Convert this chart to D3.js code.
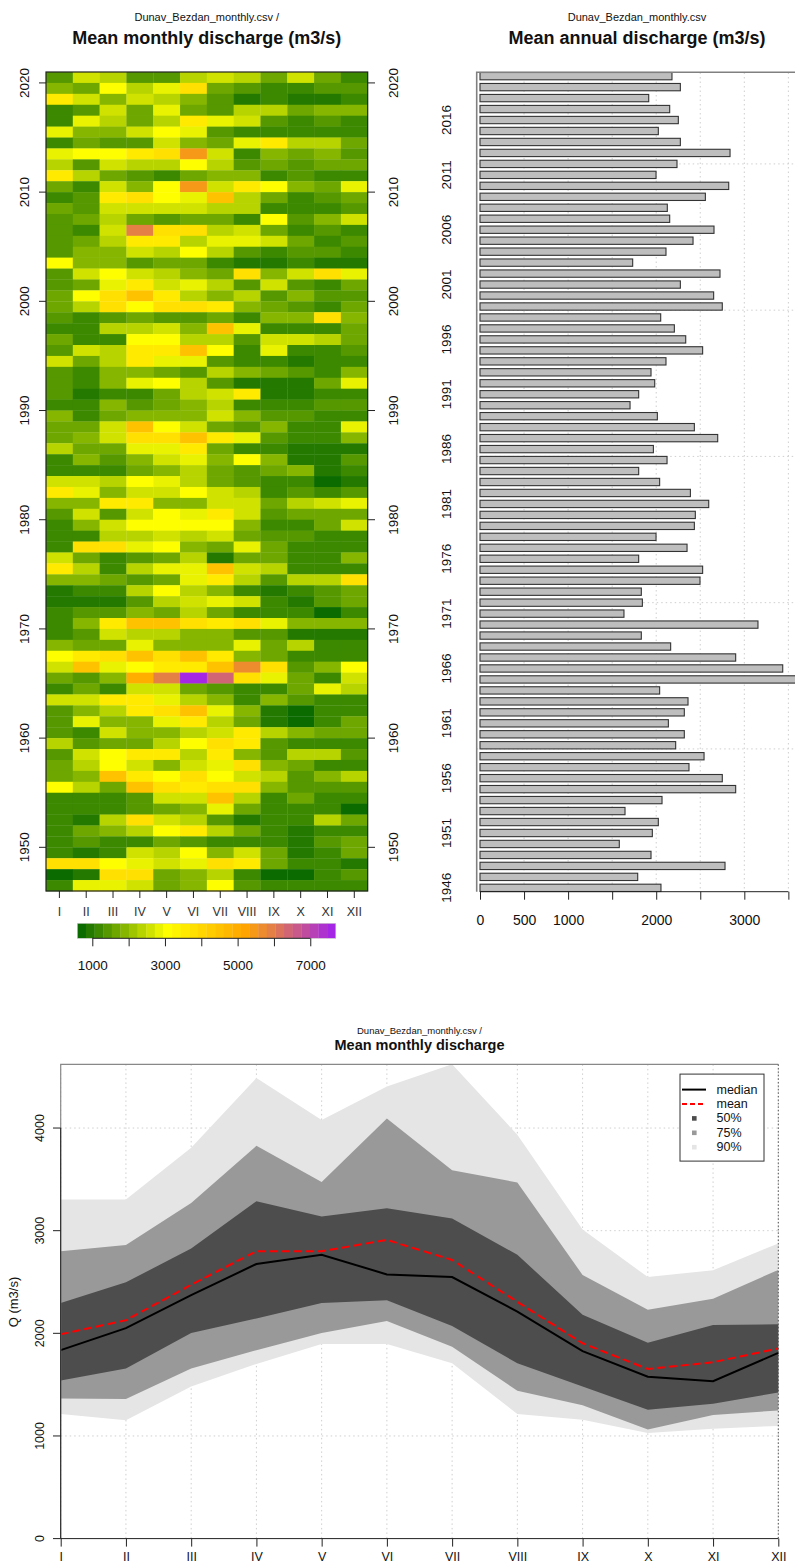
<!DOCTYPE html>
<html>
<head>
<meta charset="utf-8">
<script src="https://cdn.jsdelivr.net/npm/d3@7"></script>
<style>
  body { margin: 0; background: #fff; }
  text { font-family: "Liberation Sans", Arial, sans-serif; fill: #111; }
  .narrow { font-family: "Liberation Sans Narrow", "Liberation Sans", Arial, sans-serif; }
</style>
</head>
<body>
<div id="chart"></div>
<script>
const months = ["I", "II", "III", "IV", "V", "VI", "VII", "VIII", "IX", "X", "XI", "XII"];
const years = d3.range(1946, 2021);

// monthly mean discharge, rows from 2020 (top) down to 1946
const monthly = [
  [1450,2600,2300,1450,1450,2300,2600,2300,1700,2600,1700,1250], // 2020
  [2000,1700,3100,2300,2850,3900,1700,1450,1250,1250,1450,1450],
  [3500,2600,2000,2600,2300,2000,1450,850,1100,850,850,1250],
  [1100,1450,2600,1700,2850,1700,1450,2300,2300,1700,2000,2000],
  [1100,2850,2300,1700,2300,3500,2850,2600,1450,1250,1450,1250], // 2016
  [2850,2000,2000,2600,3100,2850,1450,1100,1100,1100,1100,1100],
  [1250,1700,1450,1450,2600,2000,1700,2850,3500,2300,2300,1700],
  [2850,3100,3100,3500,3900,5500,2600,1250,2000,1700,2000,1450],
  [2300,1450,2600,2300,2300,3100,2300,1450,1700,1450,1700,1700],
  [3500,2300,1700,1450,1250,1700,2000,2000,1250,1450,1100,1100], // 2011
  [1700,1250,2600,2000,3100,5500,2600,3500,3100,2000,1700,2850],
  [1250,1450,3500,3900,3100,2850,4600,2300,1700,1250,1450,1700],
  [1700,1450,2600,2600,2600,2600,2300,2300,1250,1100,1100,1450],
  [1450,1700,2300,1700,1450,1700,1700,1250,3100,1450,2000,2600],
  [1450,1250,2600,6000,3900,3900,2300,2600,1700,1100,1450,1100], // 2006
  [1450,1700,2300,3500,3500,2300,2850,2850,2600,1700,1100,1450],
  [1450,2000,2000,2600,2300,3100,2300,1450,1250,1450,1450,1250],
  [3100,2000,2000,1450,1700,1700,1100,850,850,1250,850,850],
  [1450,2600,3100,2600,2300,2000,1700,3900,2000,2600,3900,2850],
  [1450,1700,2850,3500,2600,2850,2300,1450,2600,1450,1100,1700], // 2001
  [1700,3100,3900,4600,3500,2300,2000,2300,1450,2000,1450,1450],
  [1700,2300,3900,3100,3900,3900,3500,2000,1700,1450,1250,1700],
  [1450,1100,1450,1700,1450,1450,1700,1250,2000,2000,3900,2000],
  [1250,1250,2300,2300,2600,2000,4600,2850,1100,1100,1100,1700],
  [1700,1100,1250,3100,3100,2300,2300,1450,2600,2600,2300,1700], // 1996
  [1450,2600,2300,3500,3500,4600,3100,1250,2850,1250,1250,1450],
  [2600,1700,2300,3500,2850,2850,1450,1100,1250,850,1250,1250],
  [1450,1250,2000,2000,1700,1450,2300,2000,1700,1450,1250,2000],
  [1450,1250,2000,2850,3100,2300,1450,850,850,850,1700,2850],
  [1450,850,1100,1100,1700,2300,2600,3500,850,850,1100,1250], // 1991
  [1100,1100,2000,1450,1700,2000,2300,1100,1100,1100,1450,1450],
  [2000,1100,1700,2000,2000,2000,2600,2000,1450,1450,1250,1100],
  [1700,1700,2600,4600,3100,2600,1700,1450,2000,1100,1100,2850],
  [1700,2000,2600,3900,3900,4600,3500,2850,1450,1100,1100,2000],
  [2300,1700,1700,2850,2850,3500,1700,1250,1250,850,850,850], // 1986
  [1250,2000,1450,2000,2600,2850,2000,3100,2000,850,850,1450],
  [1250,1250,1100,1700,2000,2300,1700,1450,1700,2000,850,1100],
  [2600,2600,2300,3100,2850,2300,1700,1450,1100,1100,700,850],
  [3500,2850,2000,2600,2600,3100,2600,2300,1250,1450,1100,1450],
  [2000,2000,3500,3500,2000,2000,2600,2600,1700,2300,2600,2850], // 1981
  [1450,2600,1450,2600,3100,2850,3500,2600,1450,1700,1700,1700],
  [1250,2000,2600,3100,3100,3100,3100,2000,1250,1250,1700,2600],
  [1250,1100,2300,2300,2600,2300,2600,1700,1450,1450,1250,1100],
  [1100,3900,3900,2850,3100,2000,1700,2850,1700,1100,1250,1250],
  [2600,1700,1250,1450,1700,2300,850,1700,1700,1100,1100,2000], // 1976
  [3500,2300,1250,2300,2850,2850,4600,2600,2300,1250,1100,1100],
  [2000,2000,1700,1450,1700,2850,3500,2300,1450,2300,2300,3900],
  [850,1100,1250,2300,3100,2300,2000,1250,850,1250,1450,1700],
  [850,850,850,1450,2300,2600,2850,2600,1250,850,1450,1700],
  [1250,1450,1450,2000,1700,2300,1700,1100,1100,1100,700,1100], // 1971
  [1100,2000,3500,4600,4600,3900,3500,3900,2850,2000,2000,2000],
  [1250,1450,2600,2300,2300,2000,2000,1450,1450,850,850,850],
  [2000,1700,1700,2850,2000,2000,2000,2850,1700,2300,1250,1100],
  [3100,3500,3900,4600,3900,4600,3500,2000,1700,1250,1100,1100],
  [2600,4600,2850,3100,3500,3500,4600,5700,3900,1450,2000,3100], // 1966
  [1700,1450,2000,5000,6000,7600,6400,3900,2850,1700,1250,2600],
  [1100,1700,1100,2600,2600,1700,1450,1100,1100,1700,2850,2300],
  [2600,2600,3500,3500,2850,2300,2000,1100,2000,1450,1250,1100],
  [1450,2000,2300,3500,3900,4600,2850,2000,850,700,1100,1100],
  [1450,2850,2000,2000,2850,3500,2300,1700,850,700,1100,1700], // 1961
  [1450,1250,2600,2000,2000,2300,2600,3500,2300,2000,1700,1700],
  [2300,1450,1700,1700,2300,3100,3900,3500,1450,1100,1100,1100],
  [1450,2600,3100,3500,3500,2300,3500,2000,1450,2300,2300,1450],
  [1700,2300,3100,2600,2000,2600,2850,3900,2000,1700,1100,1250],
  [1700,2000,4600,3500,3100,3900,3100,2600,2300,1450,2000,2300], // 1956
  [3100,2300,1700,4600,3900,3500,3900,3900,2000,1450,1450,1450],
  [1100,1100,1250,1450,2600,2600,4600,2300,1250,1700,1250,1250],
  [1250,1250,1250,1450,1700,2000,2850,1700,1100,1100,1100,700],
  [1100,850,2300,3900,2600,2300,1450,850,1100,1100,2300,1700],
  [1250,1700,2000,2300,3100,3500,2300,1700,1100,850,1100,1250], // 1951
  [1250,1450,1250,1250,1700,1300,1100,1100,1100,1000,1450,1700],
  [1100,850,1100,2600,2300,3100,2000,2600,1700,850,1100,1700],
  [3900,3900,3100,2850,2600,2850,3900,3500,1700,1100,1100,850],
  [700,850,3900,3900,1700,2000,2300,1100,700,700,1100,1450],
  [1100,2850,2850,2600,1700,2000,3100,1450,1100,1100,1100,1100]  // 1946
];

// mean annual discharge, 1946 .. 2020
const annual = [
  2054, 1790, 2781, 1941, 1581, 1956, 2024, 1646, 2066, 2902,
  2750, 2372, 2543, 2221, 2319, 2138, 2319, 2361, 2039, 3700,
  3436, 2902, 2164, 1831, 3155, 1634, 1843, 1831, 2497, 2527,
  1801, 2350, 1998, 2433, 2444, 2596, 2388, 2039, 1801, 2123,
  1968, 2698, 2433, 2013, 1703, 1801, 1983, 1941, 2111, 2527,
  2335, 2206, 2051, 2750, 2652, 2274, 2724, 1733, 2111, 2418,
  2656, 2153, 2126, 2558, 2823, 1998, 2236, 2838, 2274, 2024,
  2251, 2153, 1915, 2274, 2179
];

// monthly regime: quantile bands, median and mean
const p90hi = [3303, 3303, 3807, 4488, 4078, 4404, 4622, 3934, 3011, 2548, 2614, 2876];
const p75hi = [2800, 2860, 3269, 3827, 3474, 4092, 3588, 3470, 2568, 2229, 2336, 2618];
const p50hi = [2296, 2497, 2826, 3286, 3138, 3219, 3118, 2765, 2181, 1909, 2081, 2088];
const meanQ = [1990, 2128, 2473, 2800, 2800, 2910, 2715, 2306, 1903, 1652, 1718, 1853];
const medianQ = [1836, 2051, 2373, 2675, 2766, 2574, 2548, 2212, 1826, 1577, 1534, 1809];
const p50lo = [1541, 1658, 2004, 2145, 2296, 2322, 2071, 1708, 1483, 1255, 1315, 1423];
const p75lo = [1366, 1360, 1658, 1836, 2004, 2121, 1869, 1440, 1299, 1063, 1204, 1249];
const p90lo = [1215, 1154, 1483, 1702, 1896, 1896, 1708, 1215, 1158, 1030, 1070, 1098];

const W = 795, H = 1567;
const svg = d3.select('#chart').append('svg')
  .attr('width', W).attr('height', H);

// ---------- colour palette (binned like the R image) ----------
const zMin = 587, zMax = 7700, nBins = 30;
const ramp = d3.scaleLinear()
  .domain([600, 3050, 5200, 7700])
  .range(["#006400", "#ffff00", "#ffa500", "#a020f0"])
  .clamp(true);
const step = (zMax - zMin) / nBins;
const binColors = d3.range(nBins).map(k => ramp(zMin + (k + 0.5) * step));
const color = d3.scaleQuantize().domain([zMin, zMax]).range(binColors);

function vtext(g, x, y, str, size) {
  g.append('text')
    .attr('transform', `translate(${x},${y}) rotate(-90)`)
    .attr('text-anchor', 'middle')
    .attr('dominant-baseline', 'central')
    .style('font-size', size + 'px')
    .text(str);
}

function titles(g, cx, y1, y2, sub, main, s1, s2) {
  g.append('text').attr('class', 'narrow').attr('x', cx).attr('y', y1).attr('text-anchor', 'middle')
    .attr('dominant-baseline', 'central').style('font-size', s1 + 'px').text(sub);
  g.append('text').attr('x', cx).attr('y', y2).attr('text-anchor', 'middle')
    .attr('dominant-baseline', 'central').style('font-size', s2 + 'px').style('font-weight', 'bold')
    .text(main);
}

// ---------- heatmap ----------
const hm = svg.append('g');
const hx = d3.scaleBand().domain(months).range([46, 367.7]);
const hy = d3.scaleLinear().domain([1946, 2021]).range([891, 72]);

titles(hm, 206.8, 17, 38, 'Dunav_Bezdan_monthly.csv /', 'Mean monthly discharge (m3/s)', 11, 18);

monthly.forEach((row, r) => {
  const yr = 2020 - r;
  hm.append('g').selectAll('rect')
    .data(row)
    .enter().append('rect')
      .attr('x', (d, i) => hx(months[i]))
      .attr('y', hy(yr + 1))
      .attr('width', hx.bandwidth() + 0.3)
      .attr('height', hy(yr) - hy(yr + 1) + 0.3)
      .attr('fill', d => color(d));
});
hm.append('rect').attr('x', 46).attr('y', 72).attr('width', 321.7).attr('height', 819)
  .attr('fill', 'none').attr('stroke', '#222').attr('stroke-width', 1.2);

const yTicks = d3.range(1950, 2021, 10);
yTicks.forEach(t => {
  hm.append('line').attr('x1', 39).attr('x2', 46).attr('y1', hy(t)).attr('y2', hy(t)).attr('stroke', '#222');
  hm.append('line').attr('x1', 367.7).attr('x2', 375).attr('y1', hy(t)).attr('y2', hy(t)).attr('stroke', '#222');
  vtext(hm, 24, hy(t), t, 13.5);
  vtext(hm, 393, hy(t), t, 13.5);
});
months.forEach(m => {
  const cx = hx(m) + hx.bandwidth() / 2;
  hm.append('line').attr('x1', cx).attr('x2', cx).attr('y1', 891).attr('y2', 898).attr('stroke', '#222');
  hm.append('text').attr('x', cx).attr('y', 912).attr('text-anchor', 'middle')
    .attr('dominant-baseline', 'central').style('font-size', '12.5px').style('fill', '#333').text(m);
});

// colour legend
const cb = d3.scaleLinear().domain([zMin, zMax]).range([77.3, 335.7]);
hm.append('g').selectAll('rect')
  .data(binColors)
  .enter().append('rect')
    .attr('x', (d, k) => cb(zMin + k * step))
    .attr('y', 923.3)
    .attr('width', cb(zMin + step) - cb(zMin) + 0.3)
    .attr('height', 15)
    .attr('fill', d => d);
hm.append('rect').attr('x', 77.3).attr('y', 923.3).attr('width', 258.4).attr('height', 15)
  .attr('fill', 'none').attr('stroke', '#ccc').attr('stroke-width', 0.6);
const cbAxis = d3.axisBottom(cb).tickValues(d3.range(1000, 7001, 1000))
  .tickSize(8).tickFormat(d => (d % 2000 === 1000 ? d : ''));
const cbg = hm.append('g').attr('transform', 'translate(0,938.3)').call(cbAxis);
cbg.select('.domain').attr('stroke', '#222').attr('d', `M${cb(1000)},0H${cb(7000)}`);
cbg.selectAll('.tick line').attr('stroke', '#222');
cbg.selectAll('.tick text').attr('dy', null).attr('y', 27).attr('dominant-baseline', 'central')
  .style('font-size', '13.5px').style('font-family', '"Liberation Sans", Arial, sans-serif').attr('fill', '#111');

// ---------- annual bars ----------
const bc = svg.append('g');
const bx = d3.scaleLinear().domain([0, 3598]).range([480, 797]);
const by = d3.scaleLinear().domain([0.5, 112.5]).range([891.5, 72.5]);

titles(bc, 637, 17, 38, 'Dunav_Bezdan_monthly.csv', 'Mean annual discharge (m3/s)', 11, 18);

const gridStyle = sel => sel.attr('stroke', '#cfcfcf').attr('stroke-dasharray', '1.5,3').attr('stroke-width', 1);
d3.range(500, 3501, 500).forEach(v => {
  bc.append('line').attr('x1', bx(v)).attr('x2', bx(v)).attr('y1', 72.5).attr('y2', 891.5).call(gridStyle);
});
[20, 40, 60, 80, 100].forEach(u => {
  bc.append('line').attr('x1', 476.7).attr('x2', 797).attr('y1', by(u)).attr('y2', by(u)).call(gridStyle);
});

bc.append('g').selectAll('rect')
  .data(annual)
  .enter().append('rect')
    .attr('x', bx(0))
    .attr('y', (d, i) => by(1.5 + 1.5 * i))
    .attr('width', d => bx(d) - bx(0))
    .attr('height', (d, i) => by(0.5 + 1.5 * i) - by(1.5 + 1.5 * i))
    .attr('fill', '#bebebe')
    .attr('stroke', '#333')
    .attr('stroke-width', 1.1);

bc.append('path').attr('d', `M797,72.3H476.7V891.7`).attr('fill', 'none')
  .attr('stroke', '#808080').attr('stroke-width', 1.6);

const bAxis = d3.axisBottom(bx).tickValues(d3.range(0, 3501, 500)).tickSize(8)
  .tickFormat(d => ([0, 500, 1000, 2000, 3000].includes(d) ? d : ''));
const bag = bc.append('g').attr('transform', 'translate(0,891.7)').call(bAxis);
bag.select('.domain').attr('stroke', '#222').attr('d', `M${bx(0)},0H${bx(3500)}`);
bag.selectAll('.tick line').attr('stroke', '#222');
bag.selectAll('.tick text').attr('dy', null).attr('y', 28).attr('dominant-baseline', 'central')
  .style('font-size', '14px').style('font-family', '"Liberation Sans", Arial, sans-serif').attr('fill', '#111');

years.forEach((yr, i) => {
  if ((yr - 1946) % 5 === 0) vtext(bc, 446, by(1 + 1.5 * i), yr, 13.5);
});

// ---------- monthly regime ----------
const rc = svg.append('g');
const rx = d3.scaleLinear().domain([0, 11]).range([60.7, 778.3]);
const ry = d3.scaleLinear().domain([0, 4620]).range([1538.6, 1064.4]);

titles(rc, 419.5, 1030, 1045, 'Dunav_Bezdan_monthly.csv /', 'Mean monthly discharge', 9.5, 14.5);

months.forEach((m, i) => {
  rc.append('line').attr('x1', rx(i)).attr('x2', rx(i)).attr('y1', ry(4620)).attr('y2', ry(0)).call(gridStyle);
});
[1000, 2000, 3000, 4000].forEach(v => {
  rc.append('line').attr('x1', 60.7).attr('x2', 778.3).attr('y1', ry(v)).attr('y2', ry(v)).call(gridStyle);
});

const band = (lo, hi) => d3.area()
  .x((d, i) => rx(i))
  .y0((d, i) => ry(lo[i]))
  .y1((d, i) => ry(hi[i]));
rc.append('path').attr('d', band(p90lo, p90hi)(months)).attr('fill', '#e5e5e5');
rc.append('path').attr('d', band(p75lo, p75hi)(months)).attr('fill', '#999999');
rc.append('path').attr('d', band(p50lo, p50hi)(months)).attr('fill', '#4d4d4d');

const line = vals => d3.line().x((d, i) => rx(i)).y((d, i) => ry(vals[i]))(months);
rc.append('path').attr('d', line(medianQ)).attr('fill', 'none').attr('stroke', '#000').attr('stroke-width', 2);
rc.append('path').attr('d', line(meanQ)).attr('fill', 'none').attr('stroke', '#ff0000')
  .attr('stroke-width', 2).attr('stroke-dasharray', '8,4');

rc.append('path').attr('d', `M778.3,${ry(4620)}H60.7V${ry(0)}`).attr('fill', 'none').attr('stroke', '#888').attr('stroke-width', 1.2);
rc.append('line').attr('x1', 778.3).attr('x2', 778.3).attr('y1', ry(4620)).attr('y2', ry(0))
  .attr('stroke', '#555').attr('stroke-dasharray', '1.5,2');

const rxAxis = d3.axisBottom(rx).tickValues(d3.range(12)).tickSize(8).tickFormat(i => months[i]);
const rxg = rc.append('g').attr('transform', `translate(0,${ry(0)})`).call(rxAxis);
rxg.select('.domain').attr('stroke', '#222').attr('d', `M${rx(0)},0H${rx(11)}`);
rxg.selectAll('.tick line').attr('stroke', '#222');
rxg.selectAll('.tick text').attr('dy', null).attr('y', 18.5).attr('dominant-baseline', 'central')
  .style('font-size', '12.5px').style('font-family', '"Liberation Sans", Arial, sans-serif').attr('fill', '#222');

const ryTicks = [0, 1000, 2000, 3000, 4000];
ryTicks.forEach(v => {
  rc.append('line').attr('x1', 53).attr('x2', 60.7).attr('y1', ry(v)).attr('y2', ry(v)).attr('stroke', '#222');
  vtext(rc, 40, ry(v), v, 12.5);
});
rc.append('line').attr('x1', 60.7).attr('x2', 60.7).attr('y1', ry(0)).attr('y2', ry(4000)).attr('stroke', '#222');
vtext(rc, 13.5, 1302, 'Q (m3/s)', 13);

// legend
const lg = rc.append('g');
lg.append('rect').attr('x', 680).attr('y', 1074.1).attr('width', 84).attr('height', 87)
  .attr('fill', '#fff').attr('stroke', '#333').attr('stroke-width', 1);
const legendItems = [
  { label: 'median', kind: 'line', stroke: '#000', dash: null },
  { label: 'mean', kind: 'line', stroke: '#ff0000', dash: '5,3' },
  { label: '50%', kind: 'box', fill: '#4d4d4d' },
  { label: '75%', kind: 'box', fill: '#999999' },
  { label: '90%', kind: 'box', fill: '#e5e5e5' }
];
legendItems.forEach((it, k) => {
  const yy = 1089.6 + k * 14.4;
  if (it.kind === 'line') {
    lg.append('line').attr('x1', 682).attr('x2', 706).attr('y1', yy).attr('y2', yy)
      .attr('stroke', it.stroke).attr('stroke-width', 2).attr('stroke-dasharray', it.dash);
  } else {
    lg.append('rect').attr('x', 692).attr('y', yy - 2.3).attr('width', 4.6).attr('height', 4.6).attr('fill', it.fill);
  }
  lg.append('text').attr('x', 716.5).attr('y', yy).attr('dominant-baseline', 'central')
    .style('font-size', '12.5px').text(it.label);
});
</script>
</body>
</html>
